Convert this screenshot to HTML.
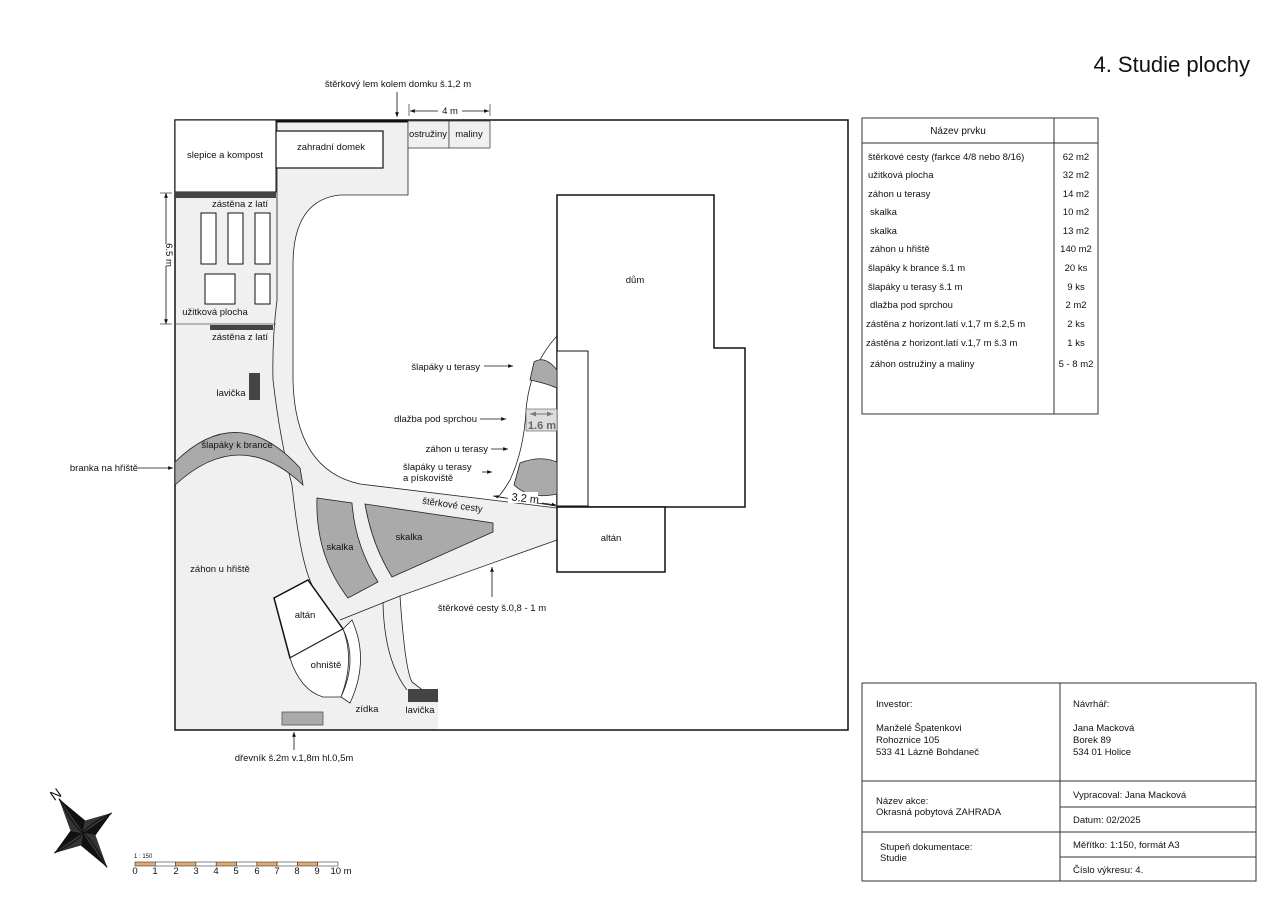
<!DOCTYPE html>
<html><head><meta charset="utf-8"><style>
body{margin:0;background:#fff;}
svg{display:block;font-family:"Liberation Sans",Arial,sans-serif;}
text{font-size:9.5px;fill:#111;}
</style></head><body>
<svg width="1280" height="905" viewBox="0 0 1280 905" xmlns="http://www.w3.org/2000/svg">
<defs>
<marker id="ar" viewBox="0 0 10 10" refX="10" refY="5" markerWidth="8" markerHeight="6" orient="auto-start-reverse"><path d="M0,1 L10,5 L0,9 Z" fill="#111"/></marker>
<marker id="ag" viewBox="0 0 10 10" refX="10" refY="5" markerWidth="8" markerHeight="6" orient="auto-start-reverse"><path d="M0,1 L10,5 L0,9 Z" fill="#777"/></marker>
</defs>

<text x="1250" y="72" text-anchor="end" style="font-size:22px">4. Studie plochy</text>

<!-- gray area -->
<path d="M175,120 L408,120 L408,195 L340,195 Q293,200 293,265 L293,380 Q295,470 360,484 L557,508 L557,540 L400,596 Q405,670 412,682 Q420,688 438,702 L438,730 L175,730 Z" fill="#f0f0f0"/>
<!-- boundary -->
<path d="M175,120 H848 V730 H175 Z" fill="none" stroke="#111" stroke-width="1.5"/>
<line x1="275" y1="121" x2="408" y2="121" stroke="#111" stroke-width="3"/>
<!-- path edges -->
<path d="M408,120 L408,195 L340,195 Q293,200 293,265 L293,380 Q295,470 360,484 L557,508" fill="none" stroke="#222" stroke-width="0.8"/>
<path d="M557,540 L400,596 Q405,670 412,682 Q420,688 438,702" fill="none" stroke="#222" stroke-width="0.8"/>
<path d="M277,120 L277,300 Q272,340 273,380 Q280,440 292,485 Q300,560 312,585" fill="none" stroke="#222" stroke-width="0.8"/>
<path d="M340,620 L400,596" fill="none" stroke="#222" stroke-width="0.8"/>
<path d="M383,602 Q384,660 407,690" fill="none" stroke="#222" stroke-width="0.8"/>

<!-- slepice -->
<rect x="175" y="120" width="101" height="72" fill="#fff" stroke="#111" stroke-width="1"/>
<text x="225" y="158" text-anchor="middle">slepice a kompost</text>
<rect x="276" y="131" width="107" height="37" fill="#fff" stroke="#111" stroke-width="1.2"/>
<text x="331" y="150" text-anchor="middle">zahradní domek</text>
<rect x="408" y="121" width="41" height="27" fill="#f0f0f0" stroke="#444" stroke-width="0.8"/>
<rect x="449" y="121" width="41" height="27" fill="#f0f0f0" stroke="#444" stroke-width="0.8"/>
<text x="428" y="137" text-anchor="middle">ostružiny</text>
<text x="469" y="137" text-anchor="middle">maliny</text>
<!-- užitková -->
<rect x="175" y="192" width="101" height="6" fill="#444"/>
<text x="240" y="207" text-anchor="middle">zástěna z latí</text>
<g fill="#fff" stroke="#111" stroke-width="1">
<rect x="201" y="213" width="15" height="51"/><rect x="228" y="213" width="15" height="51"/><rect x="255" y="213" width="15" height="51"/>
<rect x="205" y="274" width="30" height="30"/><rect x="255" y="274" width="15" height="30"/>
</g>
<text x="215" y="315" text-anchor="middle">užitková plocha</text>
<line x1="175" y1="324" x2="276" y2="324" stroke="#555" stroke-width="0.8"/>
<rect x="210" y="325" width="63" height="5" fill="#444"/>
<text x="240" y="340" text-anchor="middle">zástěna z latí</text>
<!-- 6.5m dim -->
<line x1="166" y1="193" x2="166" y2="324" stroke="#111" stroke-width="0.8" marker-start="url(#ar)" marker-end="url(#ar)"/>
<line x1="160" y1="193" x2="172" y2="193" stroke="#111" stroke-width="0.6"/>
<line x1="160" y1="324" x2="172" y2="324" stroke="#111" stroke-width="0.6"/>
<rect x="161" y="244" width="10" height="22" fill="#fff"/>
<text x="166" y="255" text-anchor="middle" transform="rotate(90 166 255)">6.5 m</text>
<!-- lavička -->
<rect x="249" y="373" width="11" height="27" fill="#444"/>
<text x="231" y="396" text-anchor="middle">lavička</text>
<!-- šlapáky k brance -->
<path d="M175,462 Q238,400 300,468 L303,485 Q240,425 175,485 Z" fill="#aaa" stroke="#222" stroke-width="0.8"/>
<text x="237" y="448" text-anchor="middle">šlapáky k brance</text>
<line x1="138" y1="468" x2="173" y2="468" stroke="#111" stroke-width="0.8" marker-end="url(#ar)"/>
<text x="138" y="471" text-anchor="end">branka na hřiště</text>
<text x="220" y="572" text-anchor="middle">záhon u hřiště</text>
<!-- skalky -->
<path d="M317,498 L352,503 Q355,545 378,582 L348,598 Q315,555 317,498 Z" fill="#aaa" stroke="#222" stroke-width="0.8"/>
<text x="340" y="550" text-anchor="middle">skalka</text>
<path d="M365,504 L493,523 L493,532 L392,577 Q372,545 365,504 Z" fill="#aaa" stroke="#222" stroke-width="0.8"/>
<text x="409" y="540" text-anchor="middle">skalka</text>
<!-- altán small -->
<path d="M274,598 L308,580 L343,629 L290,658 Z" fill="#fff" stroke="#111" stroke-width="1.5"/>
<text x="305" y="618" text-anchor="middle">altán</text>
<path d="M290,658 Q300,690 323,697 L341,697 Q355,660 343,629 Z" fill="#fff" stroke="#222" stroke-width="0.8"/>
<text x="326" y="668" text-anchor="middle">ohniště</text>
<path d="M343,629 L352,620 Q370,660 350,703 L341,697 Q358,660 343,629 Z" fill="#fff" stroke="#222" stroke-width="0.8"/>
<text x="367" y="712" text-anchor="middle">zídka</text>
<rect x="408" y="689" width="30" height="13" fill="#444"/>
<text x="420" y="713" text-anchor="middle">lavička</text>
<rect x="282" y="712" width="41" height="13" fill="#aaa" stroke="#555" stroke-width="0.8"/>
<line x1="294" y1="750" x2="294" y2="732" stroke="#111" stroke-width="0.8" marker-end="url(#ar)"/>
<text x="294" y="761" text-anchor="middle">dřevník š.2m v.1,8m hl.0,5m</text>

<!-- house -->
<path d="M557,195 H714 V348 H745 V507 H557 Z" fill="#fff" stroke="#111" stroke-width="1.5"/>
<rect x="557" y="351" width="31" height="155" fill="#fff" stroke="#111" stroke-width="1"/>
<text x="635" y="283" text-anchor="middle">dům</text>
<rect x="557" y="507" width="108" height="65" fill="#fff" stroke="#111" stroke-width="1.5"/>
<text x="611" y="541" text-anchor="middle">altán</text>
<!-- terrace -->
<path d="M557,336 Q530,365 526,410 Q524,450 510,480 Q503,492 498,497" fill="none" stroke="#222" stroke-width="0.8"/>
<path d="M534,362 Q545,355 557,370 L557,388 Q545,383 530,380 Z" fill="#aaa" stroke="#222" stroke-width="0.8"/>
<rect x="526" y="409" width="31" height="22" fill="#ddd" stroke="#555" stroke-width="0.6"/>
<line x1="530" y1="414" x2="553" y2="414" stroke="#777" stroke-width="1" marker-start="url(#ag)" marker-end="url(#ag)"/>
<text x="542" y="429" text-anchor="middle" style="font-size:11px;font-weight:bold;fill:#666">1.6 m</text>
<path d="M520,463 Q540,455 557,462 L557,494 Q530,500 514,485 Z" fill="#aaa" stroke="#222" stroke-width="0.8"/>
<line x1="493" y1="496" x2="556" y2="506" stroke="#111" stroke-width="0.7"/>
<rect x="508" y="492" width="30" height="11" fill="#fff"/>
<text x="525" y="502" text-anchor="middle" style="font-size:11px" transform="rotate(6 525 502)">3.2 m</text>
<line x1="505" y1="498" x2="494" y2="496" stroke="#111" stroke-width="0.7" marker-end="url(#ar)"/>
<line x1="542" y1="503" x2="556" y2="505" stroke="#111" stroke-width="0.7" marker-end="url(#ar)"/>
<text x="452" y="508" text-anchor="middle" transform="rotate(8 452 508)">štěrkové cesty</text>

<!-- labels with arrows -->
<text x="480" y="370" text-anchor="end">šlapáky u terasy</text>
<line x1="484" y1="366" x2="513" y2="366" stroke="#111" stroke-width="0.8" marker-end="url(#ar)"/>
<text x="477" y="422" text-anchor="end">dlažba pod sprchou</text>
<line x1="480" y1="419" x2="506" y2="419" stroke="#111" stroke-width="0.8" marker-end="url(#ar)"/>
<text x="488" y="452" text-anchor="end">záhon u terasy</text>
<line x1="491" y1="449" x2="508" y2="449" stroke="#111" stroke-width="0.8" marker-end="url(#ar)"/>
<text x="403" y="470">šlapáky u terasy</text>
<text x="403" y="481">a pískoviště</text>
<line x1="482" y1="472" x2="492" y2="472" stroke="#111" stroke-width="0.8" marker-end="url(#ar)"/>
<line x1="492" y1="597" x2="492" y2="567" stroke="#111" stroke-width="0.8" marker-end="url(#ar)"/>
<text x="492" y="611" text-anchor="middle">štěrkové cesty š.0,8 - 1 m</text>
<text x="398" y="87" text-anchor="middle">štěrkový lem kolem domku š.1,2 m</text>
<line x1="397" y1="92" x2="397" y2="117" stroke="#111" stroke-width="0.8" marker-end="url(#ar)"/>
<line x1="409" y1="104" x2="409" y2="116" stroke="#111" stroke-width="0.6"/>
<line x1="490" y1="104" x2="490" y2="116" stroke="#111" stroke-width="0.6"/>
<line x1="410" y1="111" x2="489" y2="111" stroke="#111" stroke-width="0.8" marker-start="url(#ar)" marker-end="url(#ar)"/>
<rect x="438" y="104" width="24" height="12" fill="#fff"/>
<text x="450" y="114" text-anchor="middle">4 m</text>

<!-- element table -->
<rect x="862" y="118" width="236" height="296" fill="#fff" stroke="#333" stroke-width="1"/>
<line x1="1054" y1="118" x2="1054" y2="414" stroke="#333"/>
<line x1="862" y1="143" x2="1098" y2="143" stroke="#333"/>
<text x="958" y="134" text-anchor="middle" style="font-size:10px">Název prvku</text>
<g style="font-size:9px">
<text x="868" y="160">štěrkové cesty (farkce 4/8 nebo 8/16)</text><text x="1076" y="160" text-anchor="middle">62 m2</text>
<text x="868" y="178">užitková plocha</text><text x="1076" y="178" text-anchor="middle">32 m2</text>
<text x="868" y="197">záhon u terasy</text><text x="1076" y="197" text-anchor="middle">14 m2</text>
<text x="870" y="215">skalka</text><text x="1076" y="215" text-anchor="middle">10 m2</text>
<text x="870" y="234">skalka</text><text x="1076" y="234" text-anchor="middle">13 m2</text>
<text x="870" y="252">záhon u hřiště</text><text x="1076" y="252" text-anchor="middle">140 m2</text>
<text x="868" y="271">šlapáky k brance š.1 m</text><text x="1076" y="271" text-anchor="middle">20 ks</text>
<text x="868" y="290">šlapáky u terasy š.1 m</text><text x="1076" y="290" text-anchor="middle">9 ks</text>
<text x="870" y="308">dlažba pod sprchou</text><text x="1076" y="308" text-anchor="middle">2 m2</text>
<text x="866" y="327">zástěna z horizont.latí  v.1,7 m   š.2,5 m</text><text x="1076" y="327" text-anchor="middle">2 ks</text>
<text x="866" y="346">zástěna z horizont.latí  v.1,7 m   š.3 m</text><text x="1076" y="346" text-anchor="middle">1 ks</text>
<text x="870" y="367">záhon ostružiny a maliny</text><text x="1076" y="367" text-anchor="middle">5 - 8 m2</text>
</g>

<!-- title block -->
<rect x="862" y="683" width="394" height="198" fill="#fff" stroke="#333" stroke-width="1"/>
<line x1="1060" y1="683" x2="1060" y2="881" stroke="#333"/>
<line x1="862" y1="781" x2="1256" y2="781" stroke="#333"/>
<line x1="1060" y1="807" x2="1256" y2="807" stroke="#333"/>
<line x1="862" y1="832" x2="1256" y2="832" stroke="#333"/>
<line x1="1060" y1="857" x2="1256" y2="857" stroke="#333"/>
<g style="font-size:9.5px">
<text x="876" y="707">Investor:</text>
<text x="876" y="731">Manželé Špatenkovi</text><text x="876" y="743">Rohoznice 105</text><text x="876" y="755">533 41  Lázně Bohdaneč</text>
<text x="1073" y="707">Návrhář:</text>
<text x="1073" y="731">Jana Macková</text><text x="1073" y="743">Borek 89</text><text x="1073" y="755">534 01  Holice</text>
<text x="876" y="804">Název akce:</text><text x="876" y="815">Okrasná pobytová ZAHRADA</text>
<text x="1073" y="798">Vypracoval: Jana Macková</text>
<text x="1073" y="823">Datum: 02/2025</text>
<text x="880" y="850">Stupeň dokumentace:</text><text x="880" y="861">Studie</text>
<text x="1073" y="848">Měřítko: 1:150, formát A3</text>
<text x="1073" y="873">Číslo výkresu: 4.</text>
</g>

<!-- compass -->
<g transform="translate(83,833) rotate(-35)">
<path d="M0,-42 Q4,-10 0,0 Q-4,-10 0,-42 Z M0,42 Q4,10 0,0 Q-4,10 0,42 Z M-35,0 Q-8,4 0,0 Q-8,-4 -35,0 Z M35,0 Q8,4 0,0 Q8,-4 35,0 Z" fill="none" stroke="#111"/>
<path d="M0,-42 L9,-9 L0,0 Z M0,42 L-9,9 L0,0 Z M-35,0 L-9,-9 L0,0 Z M35,0 L9,9 L0,0 Z" fill="#111"/>
<path d="M0,-42 L-9,-9 L0,0 Z M0,42 L9,9 L0,0 Z M-35,0 L-9,9 L0,0 Z M35,0 L9,-9 L0,0 Z" fill="#111" opacity="0.85"/>
</g>
<text x="52" y="800" style="font-size:14px" transform="rotate(-35 55 797)">N</text>

<!-- scale -->
<text x="134" y="858" style="font-size:6px">1 : 150</text>
<g stroke="#333" stroke-width="0.6">
<rect x="135" y="862" width="20.3" height="4" fill="#e0aa70"/><rect x="155.3" y="862" width="20.3" height="4" fill="#fff"/>
<rect x="175.6" y="862" width="20.3" height="4" fill="#e0aa70"/><rect x="195.9" y="862" width="20.3" height="4" fill="#fff"/>
<rect x="216.2" y="862" width="20.3" height="4" fill="#e0aa70"/><rect x="236.5" y="862" width="20.3" height="4" fill="#fff"/>
<rect x="256.8" y="862" width="20.3" height="4" fill="#e0aa70"/><rect x="277.1" y="862" width="20.3" height="4" fill="#fff"/>
<rect x="297.4" y="862" width="20.3" height="4" fill="#e0aa70"/><rect x="317.7" y="862" width="20.3" height="4" fill="#fff"/>
</g>
<g style="font-size:6px" text-anchor="middle">
<text x="135" y="874">0</text><text x="155" y="874">1</text><text x="176" y="874">2</text><text x="196" y="874">3</text><text x="216" y="874">4</text><text x="236" y="874">5</text><text x="257" y="874">6</text><text x="277" y="874">7</text><text x="297" y="874">8</text><text x="317" y="874">9</text><text x="341" y="874">10 m</text>
</g>
</svg>
</body></html>
